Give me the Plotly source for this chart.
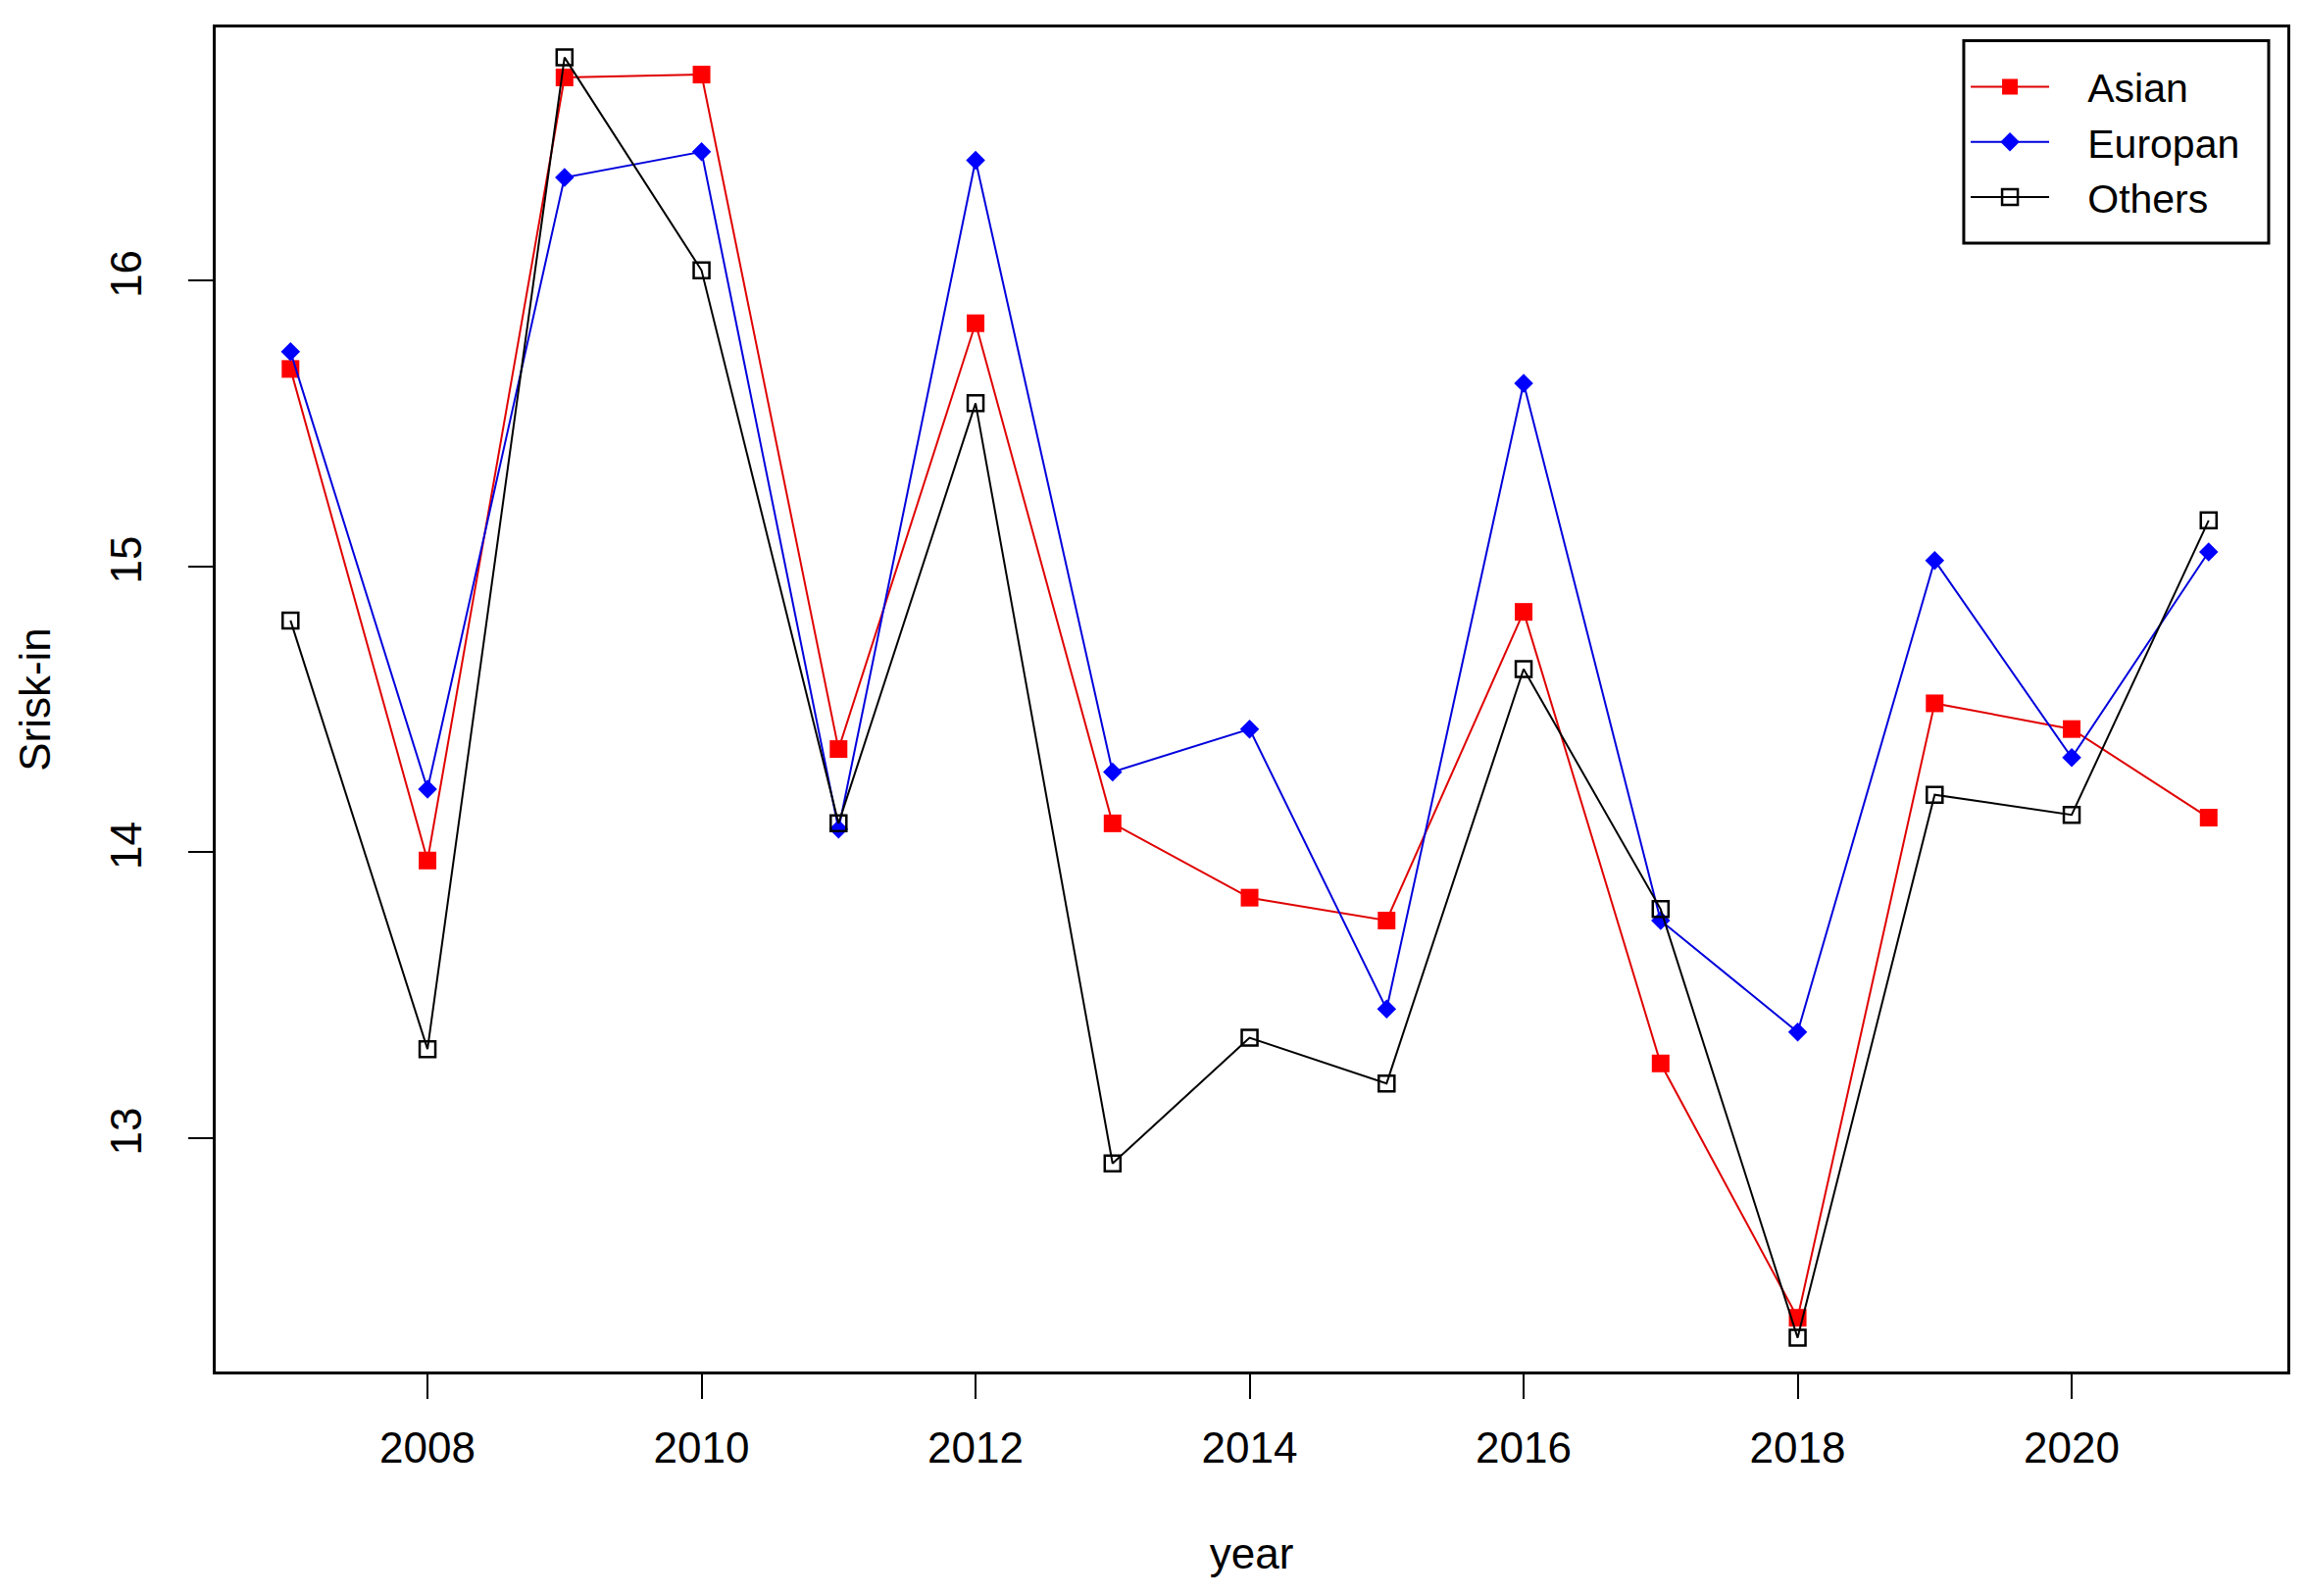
import plotly.graph_objects as go

years = [2007, 2008, 2009, 2010, 2011, 2012, 2013, 2014, 2015, 2016, 2017, 2018, 2019, 2020, 2021]
asian = [15.69, 13.97, 16.71, 16.72, 14.36, 15.85, 14.10, 13.84, 13.76, 14.84, 13.26, 12.37, 14.52, 14.43, 14.12]
europan = [15.75, 14.22, 16.36, 16.45, 14.08, 16.42, 14.28, 14.43, 13.45, 15.64, 13.76, 13.37, 15.02, 14.33, 15.05]
others = [14.81, 13.31, 16.78, 16.035, 14.10, 15.57, 12.91, 13.35, 13.19, 14.64, 13.80, 12.30, 14.20, 14.13, 15.16]

series_names = ["Asian", "Europan", "Others"]
x_ticks = [2008, 2010, 2012, 2014, 2016, 2018, 2020]
y_ticks = [13, 14, 15, 16]

FONT = "Liberation Sans, Arial, sans-serif"
PAD = "\u00a0\u00a0\u00a0"

fig = go.Figure()
fig.add_trace(go.Scatter(
    x=years, y=asian, name=PAD + series_names[0], mode="lines+markers",
    line=dict(color="#e00000", width=2),
    marker=dict(symbol="square", size=18, color="#ff0000", line=dict(width=0)),
))
fig.add_trace(go.Scatter(
    x=years, y=europan, name=PAD + series_names[1], mode="lines+markers",
    line=dict(color="#0000dd", width=2),
    marker=dict(symbol="diamond", size=15, color="#0000ff", line=dict(width=0)),
))
fig.add_trace(go.Scatter(
    x=years, y=others, name=PAD + series_names[2], mode="lines+markers",
    line=dict(color="black", width=2),
    marker=dict(symbol="square-open", size=16, color="black", line=dict(width=2.5, color="black")),
))

fig.update_layout(
    width=2334, height=1612,
    margin=dict(l=212, r=9, t=20, b=221),
    paper_bgcolor="white", plot_bgcolor="white",
    font=dict(family=FONT, size=44, color="black"),
    showlegend=True,
    legend=dict(
        x=0.8448, y=0.9148, xanchor="left", yanchor="middle",
        borderwidth=0, bgcolor="rgba(0,0,0,0)",
        font=dict(family=FONT, size=41, color="black"),
        itemwidth=80, tracegroupgap=0,
    ),
    shapes=[dict(
        type="rect", xref="paper", yref="paper",
        x0=0.8438, x1=0.9910, y0=0.8395, y1=0.9901,
        line=dict(color="black", width=3), fillcolor="rgba(0,0,0,0)", layer="above",
    )],
)
fig.update_xaxes(
    range=[2006.454, 2021.574], tickvals=x_ticks, ticktext=[str(v) for v in x_ticks],
    showgrid=False, zeroline=False,
    showline=True, linecolor="black", linewidth=3, mirror=True,
    ticks="outside", ticklen=25, tickwidth=2, tickcolor="black",
    ticklabelstandoff=12,
    title=dict(text="year", standoff=70, font=dict(family=FONT, size=44)),
    automargin=False,
)
fig.update_yaxes(
    range=[12.182, 16.885], tickvals=y_ticks, ticktext=[str(v) for v in y_ticks],
    tickangle=-90,
    showgrid=False, zeroline=False,
    showline=True, linecolor="black", linewidth=3, mirror=True,
    ticks="outside", ticklen=25, tickwidth=2, tickcolor="black",
    ticklabelstandoff=30,
    title=dict(text="Srisk-in", standoff=40, font=dict(family=FONT, size=44)),
    automargin=False,
)

fig.write_html("out.html")
